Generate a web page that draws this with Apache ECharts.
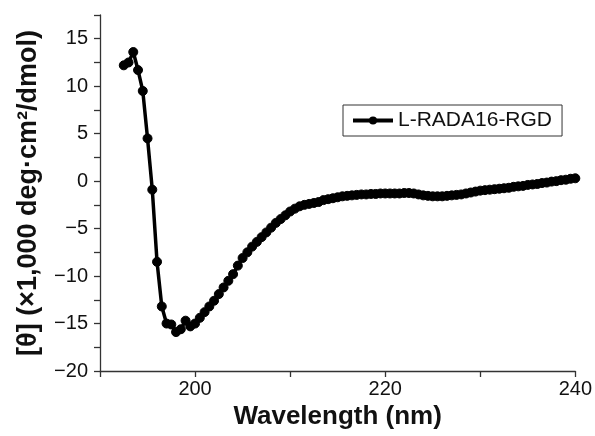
<!DOCTYPE html>
<html>
<head>
<meta charset="utf-8">
<script src="https://cdn.jsdelivr.net/npm/echarts@6/dist/echarts.min.js"></script>
<style>html,body{margin:0;padding:0;background:#fff}#c{width:595px;height:436px}</style>
</head>
<body>
<div id="c"></div>
<script>
const seriesName = 'L-RADA16-RGD';
const wavelengths = [192.5,193,193.5,194,194.5,195,195.5,196,196.5,197,197.5,198,198.5,199,199.5,200,200.5,201,201.5,202,202.5,203,203.5,204,204.5,205,205.5,206,206.5,207,207.5,208,208.5,209,209.5,210,210.5,211,211.5,212,212.5,213,213.5,214,214.5,215,215.5,216,216.5,217,217.5,218,218.5,219,219.5,220,220.5,221,221.5,222,222.5,223,223.5,224,224.5,225,225.5,226,226.5,227,227.5,228,228.5,229,229.5,230,230.5,231,231.5,232,232.5,233,233.5,234,234.5,235,235.5,236,236.5,237,237.5,238,238.5,239,239.5,240];
const ellipticity = [12.2,12.5,13.6,11.7,9.5,4.5,-0.9,-8.5,-13.2,-15.0,-15.1,-15.9,-15.6,-14.7,-15.3,-15.0,-14.4,-13.8,-13.2,-12.6,-11.9,-11.2,-10.5,-9.8,-8.9,-8.1,-7.5,-6.9,-6.4,-5.9,-5.4,-4.9,-4.4,-4.0,-3.6,-3.2,-2.9,-2.65,-2.5,-2.4,-2.3,-2.2,-2.0,-1.9,-1.8,-1.7,-1.6,-1.55,-1.5,-1.45,-1.4,-1.4,-1.35,-1.35,-1.3,-1.3,-1.3,-1.3,-1.3,-1.25,-1.25,-1.3,-1.4,-1.5,-1.55,-1.6,-1.6,-1.6,-1.55,-1.5,-1.45,-1.4,-1.3,-1.2,-1.1,-1.0,-0.95,-0.9,-0.85,-0.8,-0.75,-0.7,-0.6,-0.55,-0.5,-0.4,-0.35,-0.3,-0.2,-0.15,-0.05,0.0,0.1,0.15,0.25,0.3];
const xTickLabels = [200,220,240];
const yTickLabels = [-20,-15,-10,-5,0,5,10,15];

const data = wavelengths.map((w,i)=>[w, ellipticity[i]]);
const chart = echarts.init(document.getElementById('c'), null, {renderer:'canvas'});
const axisColor = '#333';
const font = '"Liberation Sans", Arial, sans-serif';
chart.setOption({
  animation:false,
  backgroundColor:'#fff',
  grid:{left:100, right:16, top:15, bottom:65},
  legend:{
    data:[seriesName], left:343, top:105, orient:'horizontal',
    borderColor:'#333', borderWidth:1, padding:[5,10,5,8],
    itemWidth:40, itemHeight:10, itemGap:0,
    lineStyle:{width:4, color:'#000'},
    textStyle:{fontFamily:font, fontSize:21, color:'#111'}
  },
  xAxis:{
    type:'value', min:190, max:240, interval:10,
    name:'Wavelength (nm)', nameLocation:'middle', nameGap:32,
    nameTextStyle:{fontFamily:font, fontSize:26, fontWeight:'bold', color:'#111'},
    axisLine:{onZero:false, lineStyle:{color:axisColor, width:1.3}},
    axisTick:{show:true, inside:false, length:6, lineStyle:{color:axisColor, width:1.3}},
    axisLabel:{margin:8, fontFamily:font, fontSize:20, color:'#111',
      formatter:v=> xTickLabels.includes(v) ? String(v) : ''},
    splitLine:{show:false}
  },
  yAxis:{
    type:'value', min:-20, max:17.5, interval:2.5,
    name:'[θ] (×1,000 deg·cm²/dmol)', nameLocation:'middle', nameGap:58,
    nameTextStyle:{fontFamily:font, fontSize:27, fontWeight:'bold', color:'#111'},
    axisLine:{show:true, onZero:false, lineStyle:{color:axisColor, width:1.3}},
    axisTick:{show:true, inside:false, length:6, lineStyle:{color:axisColor, width:1.3}},
    axisLabel:{margin:12, fontFamily:font, fontSize:20, color:'#111',
      formatter:v=> yTickLabels.includes(v) ? (v<0 ? '\u2212'+Math.abs(v) : String(v)) : ''},
    splitLine:{show:false}
  },
  series:[{
    name:seriesName, type:'line', data:data,
    symbol:'circle', symbolSize:9, showSymbol:true,
    lineStyle:{color:'#000', width:3.5},
    itemStyle:{color:'#000', borderColor:'#000'}
  }]
});
</script>
</body>
</html>
